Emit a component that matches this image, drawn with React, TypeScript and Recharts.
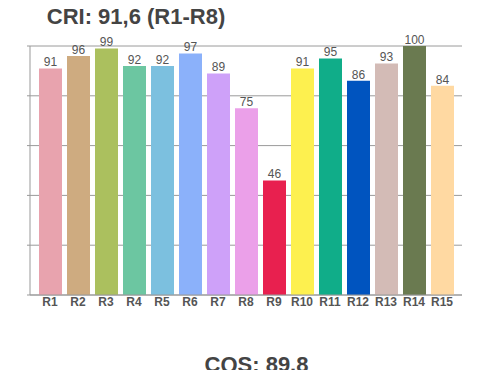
import React from 'react';
import { BarChart, Bar, XAxis, YAxis, CartesianGrid, Cell, LabelList } from 'recharts';

const categories = ['R1', 'R2', 'R3', 'R4', 'R5', 'R6', 'R7', 'R8', 'R9', 'R10', 'R11', 'R12', 'R13', 'R14', 'R15'];
const values = [91, 96, 99, 92, 92, 97, 89, 75, 46, 91, 95, 86, 93, 100, 84];
const colors = ['#E8A3AE', '#CEAB80', '#ABC05E', '#6CC6A1', '#7CC0DF', '#8BB1FA', '#CEA1F9', '#EBA0E9', '#E8204F', '#FDF04F', '#10AD89', '#0054BF', '#D3BBB6', '#6A7A50', '#FFD9A2'];
const yTicks = [0, 20, 40, 60, 80, 100];
const title = 'CRI: 91,6 (R1-R8)';
const subtitle = 'CQS: 89.8';

const data = categories.map((name, i) => ({ name, value: values[i] }));

export default function App() {
  return (
    <div style={{ position: 'absolute', left: 0, top: 0, width: 500, height: 370, fontFamily: '"Liberation Sans", Arial, sans-serif' }}>
      <BarChart width={500} height={370} data={data} margin={{ top: 46, right: 38, bottom: 45, left: 0 }} barSize={23}>
        <CartesianGrid vertical={false} stroke="#9a9a9a" />
        <XAxis
          dataKey="name"
          height={30}
          padding={{ left: 6, right: 6 }}
          tickLine={false}
          tickSize={0}
          tickMargin={2}
          stroke="#999"
          interval={0}
          tick={{ fill: '#555', fontSize: 12, fontWeight: 'bold', fontFamily: '"Liberation Sans", Arial, sans-serif' }}
        />
        <YAxis
          width={30}
          domain={[0, 100]}
          ticks={yTicks}
          tickFormatter={() => ''}
          tickSize={3}
          stroke="#999"
        />
        <Bar dataKey="value" isAnimationActive={false}>
          {data.map((d, i) => (
            <Cell key={d.name} fill={colors[i]} />
          ))}
          <LabelList dataKey="value" position="top" offset={2} fill="#555" fontSize={12} fontFamily='"Liberation Sans", Arial, sans-serif' />
        </Bar>
      </BarChart>
      <svg width={500} height={370} style={{ position: 'absolute', left: 0, top: 0, pointerEvents: 'none' }}>
        <text x={136} y={24} textAnchor="middle" fontSize={22} fontWeight="bold" fill="#444" fontFamily='"Liberation Sans", Arial, sans-serif'>{title}</text>
        <text x={256.5} y={372} textAnchor="middle" fontSize={22} fontWeight="bold" fill="#444" fontFamily='"Liberation Sans", Arial, sans-serif'>{subtitle}</text>
      </svg>
    </div>
  );
}
